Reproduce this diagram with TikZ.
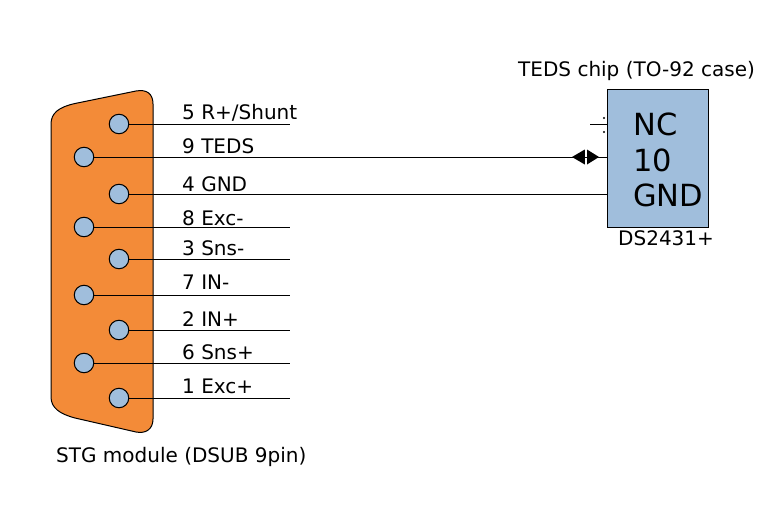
\documentclass[tikz,border=0pt]{standalone}
\usepackage{fontspec}
\setmainfont{DejaVu Sans}
\usetikzlibrary{arrows.meta}
\tikzset{
  pin/.style={circle,draw,fill=pinblue,line width=1pt,minimum size=19.5pt,inner sep=0pt},
  wire/.style={line width=0.85pt},
  lbl/.style={anchor=base west,inner sep=0pt,font=\fontsize{20}{24}\selectfont},
  chiplbl/.style={anchor=base west,inner sep=0pt,font=\fontsize{30.5}{36}\selectfont},
}
\definecolor{pinblue}{RGB}{160,190,220}
\definecolor{bodyorange}{RGB}{243,139,56}
\begin{document}
\begin{tikzpicture}[x=1pt,y=-1pt]
  \useasboundingbox (0,0) rectangle (758,519);
  % connector body
  \draw[fill=bodyorange,line width=1pt] (51,124)
    .. controls (51,113) and (59,107) .. (75,103.5)
    -- (136,91)
    .. controls (147,89) and (153,94) .. (153,104)
    -- (153,419)
    .. controls (153,429) and (146,434) .. (136,432)
    -- (75,418)
    .. controls (60,414) and (51,408) .. (51,397)
    -- cycle;
  % chip
  \node[draw,fill=pinblue,line width=1pt,minimum width=101pt,minimum height=137pt,inner sep=0pt] (chip) at (657.5,158.5) {};
  % pins
  \node[pin] (pin5) at (119,124) {};
  \node[pin] (pin9) at (84,157) {};
  \node[pin] (pin4) at (119,194) {};
  \node[pin] (pin8) at (84,227) {};
  \node[pin] (pin3) at (119,259) {};
  \node[pin] (pin7) at (84,295) {};
  \node[pin] (pin2) at (119,330) {};
  \node[pin] (pin6) at (84,363) {};
  \node[pin] (pin1) at (119,398) {};
  % free wire ends
  \coordinate (end5) at (290,124);
  \coordinate (end8) at (290,227);
  \coordinate (end3) at (290,259);
  \coordinate (end7) at (290,295);
  \coordinate (end2) at (290,330);
  \coordinate (end6) at (290,363);
  \coordinate (end1) at (290,398);
  \draw[wire] (pin5) -- (end5);
  \draw[wire] (pin9) -- (pin9 -| chip.west);
  \draw[wire] (pin4) -- (pin4 -| chip.west);
  \draw[wire] (pin8) -- (end8);
  \draw[wire] (pin3) -- (end3);
  \draw[wire] (pin7) -- (end7);
  \draw[wire] (pin2) -- (end2);
  \draw[wire] (pin6) -- (end6);
  \draw[wire] (pin1) -- (end1);
  % bidirectional mark on the TEDS wire
  \coordinate (tedsL) at (572,157);
  \coordinate (tedsR) at (599,157);
  \fill (tedsL) -- (584.8,149.5) -- (584.8,164.5) -- cycle;
  \fill (tedsR) -- (587,149.5) -- (587,164.5) -- cycle;
  % NC stub
  \coordinate (stubNC) at (590,124.5);
  \draw[line width=1.2pt] (stubNC) -- (stubNC -| chip.west);
  \fill (604,118) circle(1.2pt);
  \fill (604,132) circle(1.2pt);
  % labels
  \node[lbl] (lab5) at (182,119) {5 R+/Shunt};
  \node[lbl] (lab9) at (182,153) {9 TEDS};
  \node[lbl] (lab4) at (182,191) {4 GND};
  \node[lbl] (lab8) at (182,225) {8 Exc-};
  \node[lbl] (lab3) at (182,255) {3 Sns-};
  \node[lbl] (lab7) at (182,289) {7 IN-};
  \node[lbl] (lab2) at (182,326) {2 IN+};
  \node[lbl] (lab6) at (182,359) {6 Sns+};
  \node[lbl] (lab1) at (182,393) {1 Exc+};
  \node[lbl] (stgname) at (56,462) {STG module (DSUB 9pin)};
  \node[lbl] (tedsname) at (518,77) {TEDS chip (TO-92 case)};
  \node[lbl] (partname) at (618,245) {DS2431+};
  \node[chiplbl] (chipNC) at (633,135) {NC};
  \node[chiplbl] (chip10) at (633,171) {10};
  \node[chiplbl] (chipGND) at (633,206) {GND};
\end{tikzpicture}
\end{document}
